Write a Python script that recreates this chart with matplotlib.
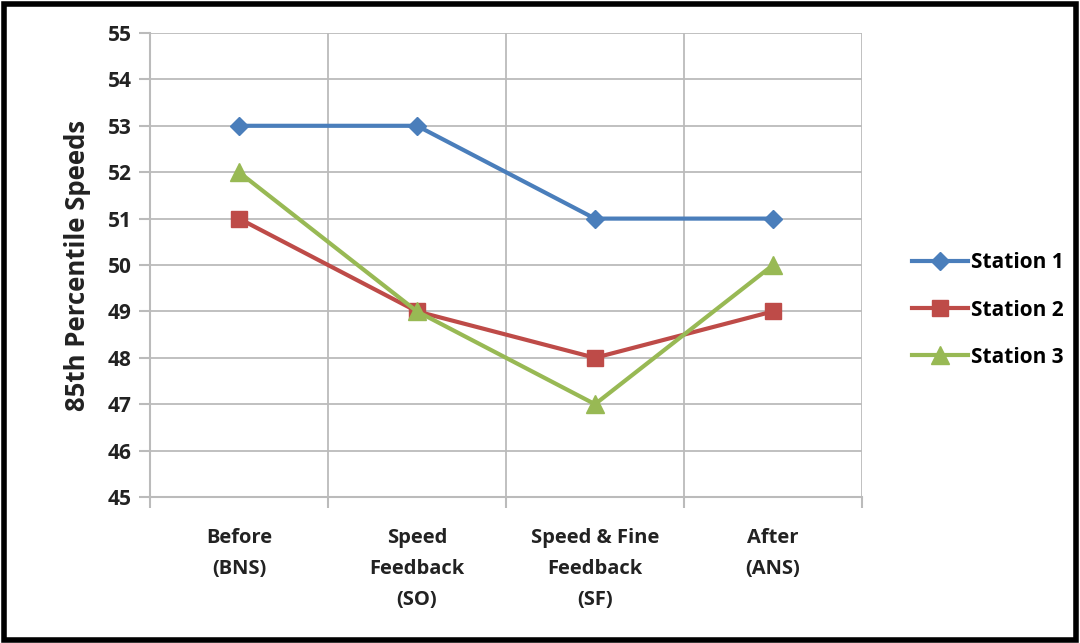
import matplotlib.pyplot as plt
import matplotlib.patches as mpatches
import numpy as np

plt.rcParams['font.family'] = ['Open Sans', 'DejaVu Sans']

# data
categories = ['Before\n(BNS)', 'Speed\nFeedback\n(SO)', 'Speed & Fine\nFeedback\n(SF)', 'After\n(ANS)']
station1 = [53, 53, 51, 51]
station2 = [51, 49, 48, 49]
station3 = [52, 49, 47, 50]

fig = plt.figure(figsize=(10.8, 6.43), dpi=100)
ax = fig.add_axes([150/1080, 1 - 497/643, 712/1080, 464/643])

x = np.arange(len(categories))
ax.plot(x, station1, '-D', color='#4A7EBB', lw=3, ms=9, label='Station 1')
ax.plot(x, station2, '-s', color='#BE4B48', lw=3, ms=11, label='Station 2')
ax.plot(x, station3, '-^', color='#98B954', lw=3, ms=13, label='Station 3')

ax.set_xlim(-0.5, len(categories) - 0.5)
ax.set_ylim(45, 55)
ax.set_yticks(range(45, 56))
ax.set_xticks(np.arange(-0.5, len(categories)))
ax.set_xticklabels([])
ax.set_xticks(x, minor=True)
ax.set_xticklabels(categories, minor=True, fontsize=14.5, fontweight='bold', color='#222222',
                   linespacing=1.75)
ax.tick_params(axis='x', which='minor', length=0, pad=22)
ax.tick_params(axis='x', which='major', length=8, color='#BBBBBB', width=1.5)
ax.tick_params(axis='y', length=8, color='#BBBBBB', width=1.5, labelsize=15, pad=5)
for lab in ax.get_yticklabels():
    lab.set_fontweight('bold')
    lab.set_color('#222222')

ax.grid(True, which='major', color='#BBBBBB', lw=1.3)
ax.set_axisbelow(True)
for s in ax.spines.values():
    s.set_visible(False)
ax.spines['left'].set_visible(True)
ax.spines['left'].set_color('#BBBBBB')
ax.spines['left'].set_linewidth(1.5)
ax.spines['bottom'].set_visible(True)
ax.spines['bottom'].set_color('#BBBBBB')
ax.spines['bottom'].set_linewidth(1.5)

ax.set_ylabel('85th Percentile Speeds', fontsize=18.5, fontweight='bold', color='#222222', labelpad=12)

leg = fig.legend(loc='center left', bbox_to_anchor=(893/1080, 1 - 310/643), frameon=False,
                 prop={'weight': 'bold', 'size': 15}, handlelength=2.7,
                 handletextpad=0.15, labelspacing=1.25)

# outer frame
fig.patches.append(mpatches.Rectangle((0.004, 0.004), 0.992, 0.99, transform=fig.transFigure,
                                      fill=False, edgecolor='black', lw=4))

fig.savefig('out.png', dpi=100)
